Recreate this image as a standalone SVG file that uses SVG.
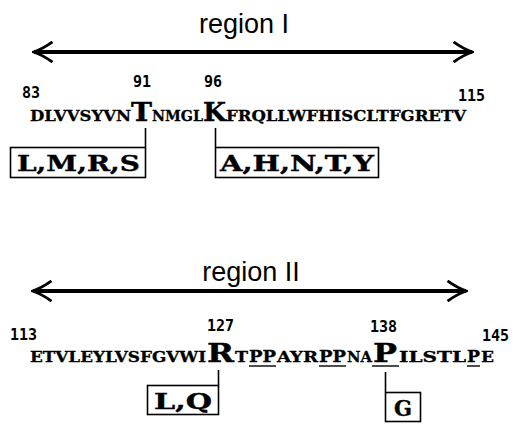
<svg xmlns="http://www.w3.org/2000/svg" width="516" height="427" viewBox="0 0 516 427">
  <style>
    .title { font-family: "Liberation Sans", Arial, sans-serif; font-size: 27px; fill: #000; }
    .num { font-family: "DejaVu Sans Mono", "Liberation Mono", monospace; font-weight: bold; font-size: 15px; fill: #000; }
    .seq { font-family: "DejaVu Serif", "Liberation Serif", serif; font-weight: bold; font-size: 14.5px; fill: #000; stroke: #000; stroke-width: 0.3; }
    .big { font-family: "DejaVu Serif", "Liberation Serif", serif; font-weight: bold; font-size: 26px; fill: #000; stroke: #000; stroke-width: 0.4; }
    .mid { font-family: "DejaVu Serif", "Liberation Serif", serif; font-weight: bold; font-size: 17px; fill: #000; stroke: #000; stroke-width: 0.3; }
    .sub { font-family: "DejaVu Serif", "Liberation Serif", serif; font-weight: bold; font-size: 22px; fill: #000; stroke: #000; stroke-width: 0.4; }
    .box { fill: #fff; stroke: #000; stroke-width: 1.6; }
    .link { stroke: #000; stroke-width: 1.6; fill: none; }
    .span { stroke: #000; stroke-width: 4; fill: none; marker-start: url(#head); marker-end: url(#head); }
    .ul { stroke: #000; stroke-width: 1.4; }
  </style>
  <defs>
    <marker id="head" viewBox="0 0 10 10" refX="9" refY="5" markerWidth="22" markerHeight="22" markerUnits="userSpaceOnUse" orient="auto-start-reverse">
      <path d="M0.6,0.4 Q5,3.6 9.2,5 Q5,6.4 0.6,9.6" fill="none" stroke="#000" stroke-width="1.3"/>
    </marker>
  </defs>

  <!-- arrows spanning each region, and the ticks from residues down to their boxes -->
  <g id="connectors">
    <line class="span" x1="34" y1="52" x2="472" y2="52"/>
    <line class="span" x1="33" y1="291" x2="466" y2="291"/>
    <line class="link" x1="145.5" y1="128" x2="145.5" y2="147"/>
    <line class="link" x1="215.5" y1="128" x2="215.5" y2="147"/>
    <line class="link" x1="218.5" y1="370" x2="218.5" y2="385"/>
    <line class="link" x1="385.5" y1="372" x2="385.5" y2="392"/>
  </g>

  <!-- region I -->
  <g id="region1-title">
    <text class="title" x="244" y="33" text-anchor="middle">region I</text>
  </g>

  <g id="region1-numbers">
    <text class="num" x="22" y="98">83</text>
    <text class="num" x="133" y="87">91</text>
    <text class="num" x="204" y="87">96</text>
    <text class="num" x="458" y="101">115</text>
  </g>

  <g id="region1-sequence">
    <text class="seq" x="30" y="121" textLength="101" lengthAdjust="spacingAndGlyphs">DLVVSYVN</text>
    <text class="big" x="131" y="121" textLength="21" lengthAdjust="spacingAndGlyphs">T</text>
    <text class="seq" x="152" y="121" textLength="51" lengthAdjust="spacingAndGlyphs">NMGL</text>
    <text class="big" x="203" y="121" textLength="23" lengthAdjust="spacingAndGlyphs">K</text>
    <text class="seq" x="226" y="121" textLength="240" lengthAdjust="spacingAndGlyphs">FRQLLWFHISCLTFGRETV</text>
  </g>

  <g id="sub-T91">
    <rect class="box" x="10.5" y="147.5" width="135" height="30"/>
    <text class="sub" x="17" y="171" textLength="123" lengthAdjust="spacingAndGlyphs">L,M,R,S</text>
  </g>
  <g id="sub-K96">
    <rect class="box" x="215.5" y="147.5" width="163" height="30"/>
    <text class="sub" x="220" y="171" textLength="154" lengthAdjust="spacingAndGlyphs">A,H,N,T,Y</text>
  </g>

  <!-- region II -->
  <g id="region2-title">
    <text class="title" x="251" y="281" text-anchor="middle">region II</text>
  </g>

  <g id="region2-numbers">
    <text class="num" x="10" y="340">113</text>
    <text class="num" x="207" y="331">127</text>
    <text class="num" x="370" y="332">138</text>
    <text class="num" x="482" y="341">145</text>
  </g>

  <g id="region2-sequence">
    <text class="seq" x="30" y="362" textLength="176" lengthAdjust="spacingAndGlyphs">ETVLEYLVSFGVWI</text>
    <text class="big" x="207" y="362" textLength="27" lengthAdjust="spacingAndGlyphs">R</text>
    <text class="seq" x="235" y="362" textLength="13" lengthAdjust="spacingAndGlyphs">T</text>
    <text class="mid" x="249" y="362" textLength="27" lengthAdjust="spacingAndGlyphs">PP</text>
    <text class="seq" x="277" y="362" textLength="41" lengthAdjust="spacingAndGlyphs">AYR</text>
    <text class="mid" x="319" y="362" textLength="27" lengthAdjust="spacingAndGlyphs">PP</text>
    <text class="seq" x="347" y="362" textLength="25" lengthAdjust="spacingAndGlyphs">NA</text>
    <text class="big" x="373" y="362" textLength="24" lengthAdjust="spacingAndGlyphs">P</text>
    <text class="seq" x="399" y="362" textLength="67" lengthAdjust="spacingAndGlyphs">ILSTL</text>
    <text class="mid" x="467" y="362" textLength="13" lengthAdjust="spacingAndGlyphs">P</text>
    <text class="seq" x="481" y="362" textLength="13" lengthAdjust="spacingAndGlyphs">E</text>
    <line class="ul" x1="249" y1="366" x2="276" y2="366"/>
    <line class="ul" x1="319" y1="366" x2="346" y2="366"/>
    <line class="ul" x1="372" y1="366" x2="399" y2="366"/>
    <line class="ul" x1="467" y1="366" x2="480" y2="366"/>
  </g>

  <g id="sub-R127">
    <rect class="box" x="147.5" y="385.5" width="71" height="29"/>
    <text class="sub" x="154" y="409" textLength="58" lengthAdjust="spacingAndGlyphs">L,Q</text>
  </g>
  <g id="sub-P138">
    <rect class="box" x="385.5" y="392.5" width="35" height="29"/>
    <text class="sub" x="394" y="416" textLength="18" lengthAdjust="spacingAndGlyphs">G</text>
  </g>
</svg>
